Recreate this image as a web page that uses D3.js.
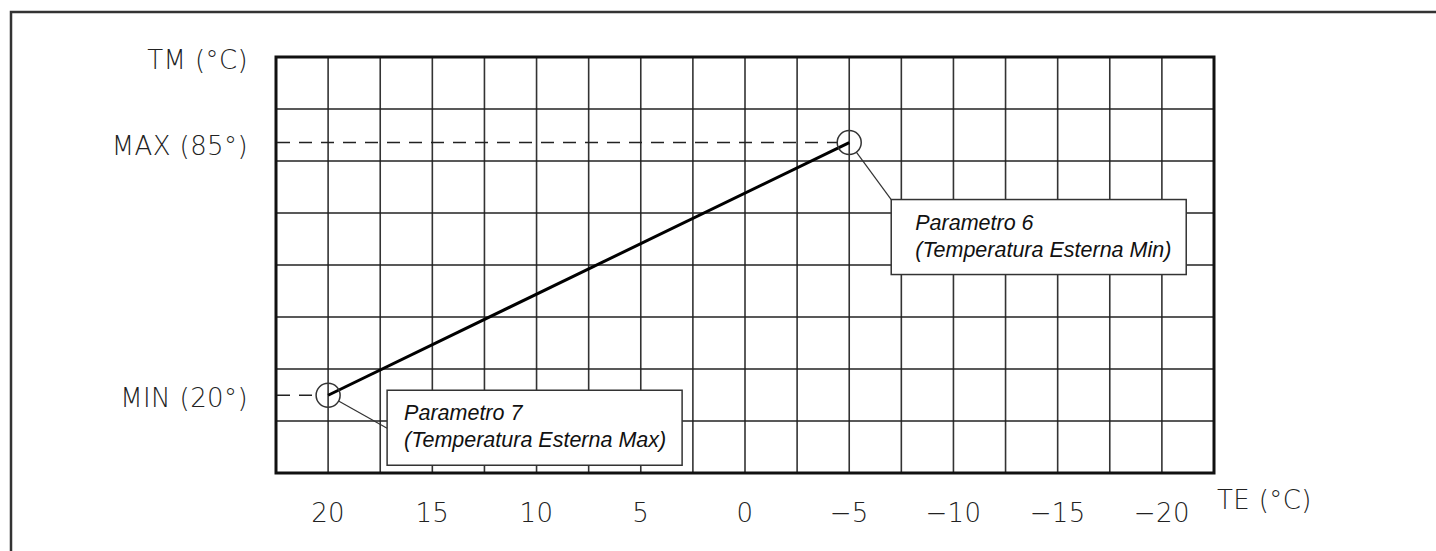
<!DOCTYPE html>
<html>
<head>
<meta charset="utf-8">
<script src="https://cdn.jsdelivr.net/npm/d3@7"></script>
<style>
  html, body { margin: 0; padding: 0; background: #fff; }
  .cad { font-family: "DejaVu Sans", sans-serif; font-weight: 200; font-size: 26px; letter-spacing: 0.4px; fill: #222; }
  .note { font-family: "Liberation Sans", Arial, sans-serif; font-style: italic; font-size: 21.5px; fill: #111; }
</style>
</head>
<body>
<div id="CHART"></div>
<script>
//////////////////////////////////////////////// DATA ////////////////////////////////////////////////
// TE axis (outside temp), reversed: hot on the left
var xTicks   = [20, 15, 10, 5, 0, -5, -10, -15, -20];
var xDomain  = [22.5, -22.5];
var xStep    = 2.5;            // one grid column
// TM axis (flow temp)
var yDomain  = [0, 107];
var yRows    = 8;
// the heating curve: two set points
var curveTE  = [20, -5];
var curveTM  = [20, 85];
var curveLabels = ["MIN (20°)", "MAX (85°)"];
var noteLine1 = ["Parametro 7", "Parametro 6"];
var noteLine2 = ["(Temperatura Esterna Max)", "(Temperatura Esterna Min)"];

//////////////////////////////////////////////// CANVAS ////////////////////////////////////////////////
var W = 1436, H = 551;
var padL = 276, padT = 57, pw = 938, ph = 416;

var svg = d3.select("#CHART").append("svg")
  .attr("width", W)
  .attr("height", H);

// outer frame (only left + top are in view)
svg.append("rect")
  .attr("x", 11).attr("y", 12)
  .attr("width", 1600).attr("height", 700)
  .attr("fill", "none")
  .attr("stroke", "#333")
  .attr("stroke-width", 2.5);

var x = d3.scaleLinear().domain(xDomain).range([padL, padL + pw]);
var y = d3.scaleLinear().domain(yDomain).range([padT + ph, padT]);

var g = svg.append("g");

// grid
var nCols = Math.round((xDomain[0] - xDomain[1]) / xStep);
var vLines = d3.range(1, nCols).map(function(i) { return xDomain[0] - i * xStep; });
var hLines = d3.range(1, yRows).map(function(i) { return yDomain[0] + i * (yDomain[1] - yDomain[0]) / yRows; });

g.selectAll("line.v").data(vLines).enter().append("line")
  .attr("class", "v")
  .attr("x1", function(d) { return x(d); }).attr("x2", function(d) { return x(d); })
  .attr("y1", padT).attr("y2", padT + ph)
  .attr("stroke", "#333").attr("stroke-width", 1.6);

g.selectAll("line.h").data(hLines).enter().append("line")
  .attr("class", "h")
  .attr("y1", function(d) { return y(d); }).attr("y2", function(d) { return y(d); })
  .attr("x1", padL).attr("x2", padL + pw)
  .attr("stroke", "#222").attr("stroke-width", 1.6);

// plot frame
g.append("rect")
  .attr("x", padL).attr("y", padT)
  .attr("width", pw).attr("height", ph)
  .attr("fill", "none")
  .attr("stroke", "#111")
  .attr("stroke-width", 3);

var r = 12;

// dashed guides from the TM axis to each point
g.selectAll("line.dash").data(curveTE).enter().append("line")
  .attr("class", "dash")
  .attr("x1", padL + 1)
  .attr("x2", function(d) { return x(d) - r; })
  .attr("y1", function(d, i) { return y(curveTM[i]); })
  .attr("y2", function(d, i) { return y(curveTM[i]); })
  .attr("stroke", "#222").attr("stroke-width", 1.5)
  .attr("stroke-dasharray", "13,9");

// curve
var pts = curveTE.map(function(d, i) { return [x(d), y(curveTM[i])]; });
g.append("path")
  .attr("d", d3.line()(pts))
  .attr("fill", "none")
  .attr("stroke", "#000")
  .attr("stroke-width", 3);

g.selectAll("circle").data(pts).enter().append("circle")
  .attr("cx", function(d) { return d[0]; })
  .attr("cy", function(d) { return d[1]; })
  .attr("r", r)
  .attr("fill", "none")
  .attr("stroke", "#333")
  .attr("stroke-width", 1.5);

// note boxes, placed relative to their point
var boxW = 295, boxH = 75;
var boxOff = [[59, -5], [42, 57]];       // box top-left from point
var leadOff = [[0, 38], [0, 0]];         // leader end on the box
var padX = [17, 24];

pts.forEach(function(p, i) {
  var bx = p[0] + boxOff[i][0], by = p[1] + boxOff[i][1];
  var tx = bx + leadOff[i][0], ty = by + leadOff[i][1];
  var dx = tx - p[0], dy = ty - p[1], len = Math.sqrt(dx * dx + dy * dy);
  g.append("line")
    .attr("x1", p[0] + dx / len * r).attr("y1", p[1] + dy / len * r)
    .attr("x2", tx).attr("y2", ty)
    .attr("stroke", "#333").attr("stroke-width", 1.2);
  g.append("rect")
    .attr("x", bx).attr("y", by)
    .attr("width", boxW).attr("height", boxH)
    .attr("fill", "#fff")
    .attr("stroke", "#333")
    .attr("stroke-width", 1.5);
  g.append("text").attr("class", "note")
    .attr("x", bx + padX[i]).attr("y", by + 30)
    .text(noteLine1[i]);
  g.append("text").attr("class", "note")
    .attr("x", bx + padX[i]).attr("y", by + 57)
    .text(noteLine2[i]);
});

// labels
svg.append("text").attr("class", "cad")
  .attr("x", 248).attr("y", 69)
  .attr("text-anchor", "end")
  .text("TM (°C)");

svg.selectAll("text.ylab").data(curveLabels).enter().append("text")
  .attr("class", "cad ylab")
  .attr("x", 248)
  .attr("y", function(d, i) { return y(curveTM[i]) + 12; })
  .attr("text-anchor", "end")
  .text(function(d) { return d; });

var fmt = d3.format("d");
svg.selectAll("text.xlab").data(xTicks).enter().append("text")
  .attr("class", "cad xlab")
  .attr("x", function(d) { return x(d); })
  .attr("y", 522)
  .attr("text-anchor", "middle")
  .text(function(d) { return fmt(d); });

svg.append("text").attr("class", "cad")
  .attr("x", 1217).attr("y", 509)
  .text("TE (°C)");
</script>
</body>
</html>
